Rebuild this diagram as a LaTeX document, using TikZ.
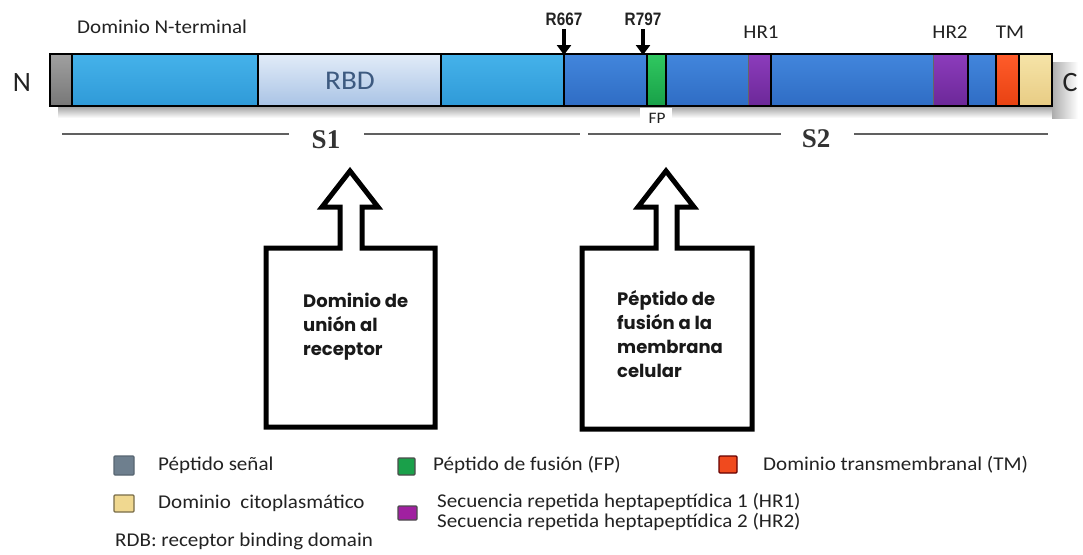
\documentclass[tikz,border=0pt]{standalone}
\usepackage{fontspec}
\setmainfont{Carlito}
\newfontfamily\lbl[FakeStretch=1.08]{Carlito}
\newfontfamily\narrowb[FakeStretch=0.85]{Liberation Sans}
\newfontfamily\serifb{Liberation Serif}
\newfontfamily\geo{Poppins}
\usetikzlibrary{arrows.meta}
\definecolor{txtgrey}{HTML}{222222}
\definecolor{blueA}{HTML}{2F9AD8}
\definecolor{blueAt}{HTML}{45B2EA}
\definecolor{blueB}{HTML}{2F6CC4}
\definecolor{blueBt}{HTML}{4286DC}
\definecolor{rbdt}{HTML}{E2ECF8}
\definecolor{rbdb}{HTML}{A9C3E5}
\definecolor{greyt}{HTML}{A0A0A0}
\definecolor{greyb}{HTML}{777777}
\definecolor{greent}{HTML}{30C860}
\definecolor{greenb}{HTML}{18A048}
\definecolor{purpt}{HTML}{8C3CBC}
\definecolor{purpb}{HTML}{6C2898}
\definecolor{redt}{HTML}{FF5C2A}
\definecolor{redb}{HTML}{E84212}
\definecolor{tant}{HTML}{F6E4A8}
\definecolor{tanb}{HTML}{E8CC84}
\definecolor{rbdtext}{HTML}{3D5A80}
\definecolor{lgrey}{HTML}{6E7F8E}
\definecolor{lgreen}{HTML}{1AA04A}
\definecolor{lred}{HTML}{F04A1E}
\definecolor{ltan}{HTML}{F0D890}
\definecolor{lpurp}{HTML}{A020A0}
\begin{document}
\begin{tikzpicture}[x=1pt,y=-1pt,
  toplbl/.style={font=\lbl\fontsize{19.5}{22}\selectfont,text=txtgrey,inner sep=0pt},
  cutlbl/.style={font=\narrowb\bfseries\fontsize{18}{20}\selectfont,text=txtgrey,inner sep=0pt},
  cutarrow/.style={line width=4.5pt,-{Triangle[width=14pt,length=10pt]}},
  sline/.style={draw=gray!75!black,line width=2.4pt},
  slbl/.style={font=\serifb\bfseries\fontsize{27}{30}\selectfont,text=black!80,inner sep=0pt},
  blockarrow/.style={draw=black,line width=5pt,line join=miter,fill=white},
  boxtext/.style={font=\geo\bfseries\fontsize{18}{24}\selectfont,text=black!90,align=left,anchor=north west,inner sep=0pt},
  legtext/.style={font=\lbl\fontsize{19.5}{22}\selectfont,text=txtgrey,anchor=west,inner sep=0pt},
  legbox/.style={line width=1.2pt,rounded corners=1pt}
]
\useasboundingbox (0,0) rectangle (1083,554);
\fill[white] (0,0) rectangle (1083,554);

% shadow under the bar
\shade[top color=gray!75,bottom color=white] (58,106) rectangle (1052,118);
\shade[left color=gray!65,right color=white] (1052,62) rectangle (1078,118);

% bar segments
\shade[top color=greyt,bottom color=greyb] (50,54) rectangle (72,106);
\shade[top color=blueAt,bottom color=blueA] (72,54) rectangle (258,106);
\shade[top color=rbdt,bottom color=rbdb] (258,54) rectangle (441,106);
\shade[top color=blueAt,bottom color=blueA] (441,54) rectangle (564,106);
\shade[top color=blueBt,bottom color=blueB] (564,54) rectangle (647,106);
\shade[top color=greent,bottom color=greenb] (647,54) rectangle (666,106);
\shade[top color=blueBt,bottom color=blueB] (666,54) rectangle (748,106);
\shade[top color=purpt,bottom color=purpb] (748,54) rectangle (771,106);
\shade[top color=blueBt,bottom color=blueB] (771,54) rectangle (933,106);
\shade[top color=purpt,bottom color=purpb] (933,54) rectangle (968,106);
\shade[top color=blueBt,bottom color=blueB] (968,54) rectangle (996,106);
\shade[top color=redt,bottom color=redb] (996,54) rectangle (1019,106);
\shade[top color=tant,bottom color=tanb] (1019,54) rectangle (1052,106);
\foreach \xx in {72,258,441,564,647,666,771,968,996,1019}
  \draw[black,line width=1.6pt] (\xx,54) -- (\xx,106);
\draw[black!60,line width=0.8pt] (748,55) -- (748,105);
\draw[black!60,line width=0.8pt] (933,55) -- (933,105);
\draw[black,line width=2.4pt] (50,54) rectangle (1052,106);

% FP label patch
\fill[white] (640,107.5) rectangle (672,128);
\node[font=\lbl\fontsize{16}{18}\selectfont,text=txtgrey,inner sep=0pt] (fp) at (657,118) {FP};

% N and C
\node[font=\fontsize{28}{30}\selectfont,text=txtgrey,inner sep=0pt] (nterm) at (22,83) {N};
\node[font=\fontsize{28}{30}\selectfont,text=txtgrey,inner sep=0pt] (cterm) at (1070,83) {C};
\node[font=\lbl\fontsize{27}{30}\selectfont,text=rbdtext,inner sep=0pt] (rbd) at (350,81) {RBD};

% top labels
\node[toplbl,anchor=west] (ndom) at (77,27) {Dominio N-terminal};
\node[toplbl] (hr1) at (761,32) {HR1};
\node[toplbl] (hr2) at (950,32) {HR2};
\node[toplbl] (tm) at (1010,32) {TM};

% cleavage sites
\node[cutlbl] (r667) at (564,19) {R667};
\node[cutlbl] (r797) at (643,19) {R797};
\coordinate (r667tip) at (564,55);
\coordinate (r797tip) at (643,55);
\draw[cutarrow] (564,29) -- (r667tip);
\draw[cutarrow] (643,29) -- (r797tip);

% S1 / S2 lines
\node[slbl] (s1) at (326,140) {S1};
\node[slbl] (s2) at (816,139) {S2};
\coordinate (s1a) at (62,134);
\coordinate (s1b) at (580,134);
\coordinate (s2a) at (588,134);
\coordinate (s2b) at (1048,134);
\draw[sline] (s1a) -- (289,134);
\draw[sline] (364,134) -- (s1b);
\draw[sline] (s2a) -- (781,134);
\draw[sline] (854,134) -- (s2b);

% block arrows
\draw[blockarrow] (266,248) -- (340,248) -- (340,207) -- (322,207) -- (350,171)
  -- (378,207) -- (362,207) -- (362,248) -- (435,248) -- (435,427) -- (266,427) -- cycle;
\draw[blockarrow] (582,248) -- (656,248) -- (656,207) -- (638,207) -- (666,171)
  -- (694,207) -- (677,207) -- (677,248) -- (752,248) -- (752,429) -- (582,429) -- cycle;
\node[boxtext] (t1) at (303,293) {Dominio de\\unión al\\receptor};
\node[boxtext] (t2) at (617,290) {Péptido de\\fusión a la\\membrana\\celular};

% legend
\filldraw[legbox,fill=lgrey,draw=lgrey!80!black] (114,456) rectangle (134,475);
\node[legtext] (l1) at (158,465) {Péptido señal};
\filldraw[legbox,fill=lgreen,draw=black!70] (398,458) rectangle (415,475);
\node[legtext] (l2) at (433,465) {Péptido de fusión (FP)};
\filldraw[legbox,fill=lred,draw=red!40!black] (719,456) rectangle (737,473);
\node[legtext] (l3) at (763,465) {Dominio transmembranal (TM)};
\filldraw[legbox,fill=ltan,draw=ltan!50!black] (114,495) rectangle (134,512);
\node[legtext] (l4) at (158,503) {Dominio\ \ citoplasmático};
\filldraw[legbox,fill=lpurp,draw=black!70] (398,506) rectangle (417,520);
\node[legtext] (l5) at (437,502) {Secuencia repetida heptapeptídica 1 (HR1)};
\node[legtext] (l6) at (437,522) {Secuencia repetida heptapeptídica 2 (HR2)};
\node[legtext] (l7) at (115,541) {RDB: receptor binding domain};
\end{tikzpicture}
\end{document}
